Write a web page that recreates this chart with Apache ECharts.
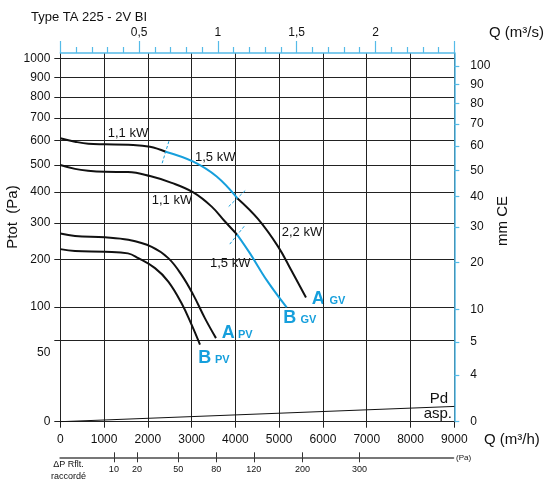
<!DOCTYPE html>
<html>
<head>
<meta charset="utf-8">
<script src="https://cdn.jsdelivr.net/npm/echarts/dist/echarts.min.js"></script>
<style>html,body{margin:0;padding:0;background:#fff}#c{width:546px;height:483px}</style>
</head>
<body>
<div id="c"></div>
<script>
// ---- data (Q in m3/h, pressure in Pa) ----
const aGv11Q  = [0, 336, 640, 1021, 1553, 2049, 2407];
const aGv11Pa = [610, 595, 586, 584, 582, 574, 553];
const aGv15Q  = [2407, 3038, 3572, 4043];
const aGv15Pa = [553, 513, 456, 379];
const aGv22Q  = [4043, 4515, 4979, 5270, 5612];
const aGv22Pa = [379, 312, 232, 175, 117];
const bGv11Q  = [0, 336, 633, 1021, 1546, 2049, 2544, 3038, 3458, 3762, 4043];
const bGv11Pa = [500, 485, 478, 474, 473, 458, 433, 399, 351, 304, 265];
const bGv15Q  = [4043, 4333, 4714, 5171];
const bGv15Pa = [265, 215, 152, 99];
const aPvQ    = [0, 336, 1021, 1553, 2088, 2467, 2773, 3038, 3305, 3556];
const aPvPa   = [269, 262, 258, 251, 232, 203, 163, 122, 81, 53];
const bPvQ    = [0, 336, 1021, 1546, 1782, 2163, 2467, 2773, 3001, 3191];
const bPvPa   = [226, 221, 219, 215, 203, 179, 149, 106, 71, 45];
const pdQ     = [0, 9000];
const pdPa    = [0, 1.77];
// motor change points
const changeQ  = [2407, 4043, 4043];
const changePa = [553, 379, 265];

// ---- axes ----
const leftTicksPa   = [0, 50, 100, 200, 300, 400, 500, 600, 700, 800, 900, 1000];
const rightTickMm   = [0, 1.72, 5, 10, 20, 30, 40, 50, 60, 70, 80, 90, 100];
const rightTickText = ['0', '4', '5', '10', '20', '30', '40', '50', '60', '70', '80', '90', '100'];
const PA_PER_MM = 9.6;
const dpTickQ    = [1227, 1759, 2704, 3572, 4431, 5544, 6853];
const dpTickText = ['10', '20', '50', '80', '120', '200', '300'];

// ---- style ----
const BLUE = '#169fdc';
const AXBLUE = '#55bbe8';
const FONT = 'Liberation Sans, Arial, Helvetica, sans-serif';
const changeAngles = [73, 44, 51];

const T = v => Math.sqrt(v);           // sqrt pressure scale
const YMAX = 32.117;
const pts = (q, p) => q.map((x, i) => [x, T(p[i])]);

const chart = echarts.init(document.getElementById('c'), null, {renderer: 'canvas'});

function curve(q, p, color) {
  return {
    type: 'line', xAxisIndex: 0, yAxisIndex: 0, data: pts(q, p),
    smooth: 0.4, showSymbol: false, silent: true,
    lineStyle: {color: color, width: 2}, z: 5
  };
}

const gText = (text, x, y, size, opts) => Object.assign({
  type: 'text', x: x, y: y, silent: true,
  style: Object.assign({
    text: text, x: 0, y: 0, font: size + 'px ' + FONT, fill: '#111',
    textAlign: 'left', align: 'left', textVerticalAlign: 'middle', verticalAlign: 'middle'
  }, (opts && opts.style) || {})
}, (opts && opts.el) || {});
const bold = (text, x, y, size) => gText(text, x, y, size, {style: {font: 'bold ' + size + 'px ' + FONT, fill: BLUE}});

const option = {
  animation: false,
  grid: [
    {left: 60.3, right: 91.7, top: 53, bottom: 61.3, outerBoundsMode: 'none', containLabel: false},
    {left: 60.3, right: 92.7, top: 452.3, height: 5, outerBoundsMode: 'none', containLabel: false}
  ],
  xAxis: [
    {
      type: 'value', gridIndex: 0, position: 'bottom', min: 0, max: 9000, interval: 1000,
      axisLine: {show: true, onZero: false, lineStyle: {color: '#222', width: 1}},
      axisTick: {show: true, length: 6, lineStyle: {color: '#222'}},
      axisLabel: {margin: 12, fontSize: 12, color: '#111', fontFamily: FONT, showMaxLabel: true, showMinLabel: true,
        formatter: v => String(v)},
      splitLine: {show: true, lineStyle: {color: '#222', width: 1}}
    },
    {
      type: 'value', gridIndex: 0, position: 'top', min: 0, max: 2.5, interval: 0.5,
      axisLine: {show: true, onZero: false, lineStyle: {color: AXBLUE, width: 1.5}},
      axisTick: {show: true, length: 12, lineStyle: {color: AXBLUE, width: 1.2}},
      minorTick: {show: true, splitNumber: 5, length: 6, lineStyle: {color: AXBLUE, width: 1.2}},
      axisLabel: {margin: 14, fontSize: 12, color: '#111', fontFamily: FONT, showMinLabel: false, showMaxLabel: false,
        formatter: v => String(v).replace('.', ',')},
      splitLine: {show: false}
    },
    {
      type: 'value', gridIndex: 1, position: 'bottom', min: 0, max: 9000,
      axisLine: {show: true, onZero: false, lineStyle: {color: '#777', width: 2}},
      axisTick: {show: true, length: 5, customValues: dpTickQ, lineStyle: {color: '#333', width: 1}},
      axisLabel: {margin: 8, fontSize: 9, color: '#111', fontFamily: FONT, customValues: dpTickQ,
        formatter: v => { const i = dpTickQ.indexOf(v); return i >= 0 ? dpTickText[i] : ''; }},
      splitLine: {show: false}
    },
    {
      type: 'value', gridIndex: 1, position: 'bottom', min: 0, max: 9000,
      axisLine: {show: false, onZero: false},
      axisTick: {show: true, inside: true, length: 5, customValues: dpTickQ, lineStyle: {color: '#333', width: 1}},
      axisLabel: {show: false},
      splitLine: {show: false}
    }
  ],
  yAxis: [
    {
      type: 'value', gridIndex: 0, position: 'left', min: 0, max: YMAX,
      axisLine: {show: true, onZero: false, lineStyle: {color: '#222', width: 1}},
      axisTick: {show: true, length: 6, customValues: leftTicksPa.map(T), lineStyle: {color: '#222'}},
      axisLabel: {margin: 10, fontSize: 12, color: '#111', fontFamily: FONT, customValues: leftTicksPa.map(T),
        formatter: v => { const p = Math.round(v * v); return p === 50 ? '{low|50}' : String(p); },
        rich: {low: {fontSize: 12, color: '#111', fontFamily: FONT, padding: [24, 0, 0, 0]}}},
      splitLine: {show: true, lineStyle: {color: '#222', width: 1}}
    },
    {
      type: 'value', gridIndex: 0, position: 'right', min: 0, max: YMAX,
      axisLine: {show: true, onZero: false, lineStyle: {color: AXBLUE, width: 1.5}},
      axisTick: {show: true, length: 5, customValues: rightTickMm.map(m => T(m * PA_PER_MM)), lineStyle: {color: AXBLUE, width: 1.2}},
      axisLabel: {margin: 16, fontSize: 12, color: '#111', fontFamily: FONT, customValues: rightTickMm.map(m => T(m * PA_PER_MM)),
        formatter: v => {
          let best = 0, bd = 1e9;
          rightTickMm.forEach((m, i) => { const d = Math.abs(T(m * PA_PER_MM) - v); if (d < bd) { bd = d; best = i; } });
          return rightTickText[best];
        }},
      splitLine: {show: false}
    },
    {type: 'value', gridIndex: 1, show: false, min: 0, max: 1}
  ],
  series: [
    curve(aGv11Q, aGv11Pa, '#111'),
    curve(aGv15Q, aGv15Pa, BLUE),
    curve(aGv22Q, aGv22Pa, '#111'),
    curve(bGv11Q, bGv11Pa, '#111'),
    curve(bGv15Q, bGv15Pa, BLUE),
    curve(aPvQ, aPvPa, '#111'),
    curve(bPvQ, bPvPa, '#111'),
    {
      type: 'line', xAxisIndex: 0, yAxisIndex: 0, data: pts(pdQ, pdPa), showSymbol: false, silent: true,
      lineStyle: {color: '#111', width: 1}, z: 4
    },
    {
      type: 'custom', coordinateSystem: 'cartesian2d', xAxisIndex: 0, yAxisIndex: 0, silent: true, z: 6,
      data: pts(changeQ, changePa),
      renderItem: (params, api) => {
        const c = api.coord([api.value(0), api.value(1)]);
        const a = changeAngles[params.dataIndex] * Math.PI / 180, L = 12;
        return {type: 'line',
          shape: {x1: c[0] - L * Math.cos(a), y1: c[1] + L * Math.sin(a), x2: c[0] + L * Math.cos(a), y2: c[1] - L * Math.sin(a)},
          style: {stroke: BLUE, lineWidth: 1, lineDash: [3, 2]}};
      }
    }
  ],
  graphic: [
    gText('Type TA 225 - 2V BI', 31, 17, 13),
    gText('Q (m\u00b3/s)', 489, 33, 15),
    gText('Q (m\u00b3/h)', 484, 440, 15),
    gText('Ptot  (Pa)', 13, 217, 15, {el: {rotation: Math.PI / 2}, style: {textAlign: 'center', align: 'center'}}),
    gText('mm CE', 503, 221, 15, {el: {rotation: Math.PI / 2}, style: {textAlign: 'center', align: 'center'}}),
    gText('1,1 kW', 107.7, 133.3, 13),
    gText('1,5 kW', 195, 157.7, 13),
    gText('1,1 kW', 151.7, 200, 13),
    gText('2,2 kW', 281.7, 232.7, 13),
    gText('1,5 kW', 210, 263.3, 13),
    bold('A', 311.7, 299, 18), bold('GV', 329.5, 301, 11),
    bold('B', 283.3, 318, 18), bold('GV', 300.5, 320, 11),
    bold('A', 221.7, 333, 18), bold('PV', 238, 335, 11),
    bold('B', 198.3, 358, 18), bold('PV', 215, 360, 11),
    gText('Pd', 448, 399.3, 15, {style: {textAlign: 'right', align: 'right'}}),
    gText('asp.', 452, 414, 15, {style: {textAlign: 'right', align: 'right'}}),
    gText('(Pa)', 456, 457.5, 8),
    gText('\u0394P Rflt.', 68.5, 465, 9, {style: {textAlign: 'center', align: 'center'}}),
    gText('raccord\u00e9', 68.5, 477, 9, {style: {textAlign: 'center', align: 'center'}})
  ]
};
chart.setOption(option);
</script>
</body>
</html>
